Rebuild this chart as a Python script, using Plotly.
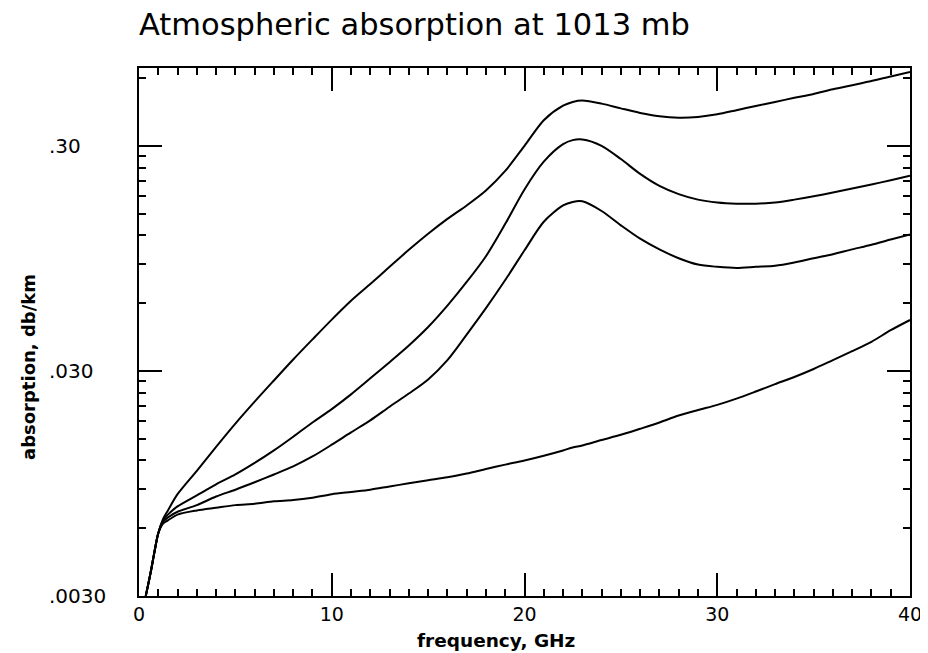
import math
import plotly.graph_objects as go

# ---- data ----
freq_ghz = [0.35, 0.6, 0.8, 1.0, 1.25, 1.5, 2, 3, 4, 5, 6, 7, 8, 9, 10, 11, 12, 13, 14, 15,
            16, 17, 18, 19, 20, 21, 22, 22.5, 23, 24, 25, 26, 27, 28, 29, 30, 31, 32, 33,
            34, 35, 36, 37, 38, 39, 40]

curve_a = [0.003, 0.0038, 0.0047, 0.0057, 0.0066, 0.0072, 0.0085, 0.0108, 0.0138, 0.0175,
           0.0219, 0.0272, 0.0337, 0.0414, 0.0507, 0.0615, 0.073, 0.087, 0.1035, 0.122,
           0.142, 0.163, 0.19, 0.232, 0.30, 0.39, 0.452, 0.47, 0.477, 0.462,
           0.44, 0.42, 0.406, 0.40, 0.403, 0.414, 0.432, 0.451, 0.47,
           0.49, 0.51, 0.535, 0.558, 0.582, 0.61, 0.638]

curve_b = [0.003, 0.0038, 0.0047, 0.0057, 0.0065, 0.0069, 0.0075, 0.0084, 0.0094, 0.0104,
           0.0117, 0.0133, 0.0153, 0.0177, 0.0203, 0.0236, 0.0278, 0.0328, 0.0389, 0.047,
           0.0585, 0.0745, 0.097, 0.135, 0.192, 0.255, 0.305, 0.318, 0.32, 0.30,
           0.262, 0.225, 0.199, 0.183, 0.173, 0.168, 0.166, 0.166, 0.168,
           0.173, 0.179, 0.186, 0.194, 0.202, 0.211, 0.221]

curve_c = [0.003, 0.0038, 0.0047, 0.0057, 0.0064, 0.0067, 0.0071, 0.0076, 0.0083, 0.0089,
           0.0096, 0.0104, 0.0113, 0.0125, 0.0141, 0.016, 0.0181, 0.0208, 0.0238, 0.0275,
           0.0335, 0.0435, 0.057, 0.076, 0.103, 0.138, 0.163, 0.169, 0.17, 0.154,
           0.133, 0.116, 0.104, 0.095, 0.089, 0.087, 0.086, 0.087, 0.088,
           0.091, 0.095, 0.099, 0.104, 0.109, 0.115, 0.121]

curve_d = [0.003, 0.0038, 0.0047, 0.0057, 0.0063, 0.0065, 0.0069, 0.0072, 0.0074, 0.0076,
           0.0077, 0.0079, 0.0080, 0.0082, 0.0085, 0.0087, 0.0089, 0.0092, 0.0095, 0.0098,
           0.0101, 0.0105, 0.011, 0.0115, 0.012, 0.0126, 0.0133, 0.0137, 0.014, 0.0148,
           0.0156, 0.0166, 0.0177, 0.019, 0.0201, 0.0212, 0.0226, 0.0243, 0.0262,
           0.0282, 0.0306, 0.0335, 0.0367, 0.0404, 0.0455, 0.0505]

x_tick_vals = [0, 10, 20, 30, 40]
x_tick_text = ["0", "10", "20", "30", "40"]
y_tick_vals = [0.003, 0.03, 0.3]
y_tick_text = [".0030", ".030", ".30"]
y_range = [0.003, 0.665]

title_text = "Atmospheric absorption at 1013 mb"
x_title = "frequency, GHz"
y_title = "absorption, db/km"

# ---- figure ----
FONT = "DejaVu Sans"
OFF = 8  # page body margin shifts the figure by this many pixels
W, H = 928 - OFF, 653 - OFF
L, R, T, B = 139 - OFF, 910 - OFF, 68 - OFF, 596 - OFF
PW, PH = R - L, B - T

fig = go.Figure()
for series in (curve_a, curve_b, curve_c, curve_d):
    fig.add_trace(go.Scatter(x=freq_ghz, y=series, mode="lines",
                             line=dict(color="black", width=2, shape="spline", smoothing=0.8),
                             showlegend=False, hoverinfo="skip"))

y_minor = []
for decade in (0.003, 0.03, 0.3):
    for k in range(2, 10):
        v = decade * k
        if v < y_range[1]:
            y_minor.append(v)

fig.update_xaxes(
    range=[0, 40], tickmode="array", tickvals=x_tick_vals, ticktext=x_tick_text,
    ticks="inside", ticklen=23, tickwidth=2, tickcolor="black",
    minor=dict(dtick=1, tick0=0, ticks="inside", ticklen=7, tickwidth=2, tickcolor="black"),
    showline=True, linewidth=2, linecolor="black", mirror="allticks",
    showgrid=False, zeroline=False, automargin=False,
    tickfont=dict(family=FONT, size=19, color="black"),
)
fig.update_yaxes(
    type="log", range=[math.log10(y_range[0]), math.log10(y_range[1])],
    tickmode="array", tickvals=y_tick_vals, showticklabels=False,
    ticks="inside", ticklen=23, tickwidth=2, tickcolor="black",
    minor=dict(tickvals=y_minor, ticks="inside", ticklen=7, tickwidth=2, tickcolor="black"),
    showline=True, linewidth=2, linecolor="black", mirror="allticks",
    showgrid=False, zeroline=False, automargin=False,
)

annotations = []
for v, t in zip(y_tick_vals, y_tick_text):
    annotations.append(dict(x=-(139 - 47) / PW, xref="paper", xanchor="left",
                            y=math.log10(v), yref="y", yanchor="middle",
                            text=t, showarrow=False,
                            font=dict(family=FONT, size=20, color="black")))
annotations.append(dict(x=-2 / PW, xref="paper", xanchor="left",
                        y=1 + (68 - 24) / PH, yref="paper", yanchor="middle",
                        text=title_text, showarrow=False,
                        font=dict(family=FONT, size=30.5, color="black")))
annotations.append(dict(x=(496 - 139) / PW, xref="paper", xanchor="center",
                        y=-(640 - 596) / PH, yref="paper", yanchor="middle",
                        text="<b>" + x_title + "</b>", showarrow=False,
                        font=dict(family=FONT, size=18.5, color="black")))
annotations.append(dict(x=-(139 - 28) / PW, xref="paper", xanchor="center",
                        y=(596 - 367) / PH, yref="paper", yanchor="middle",
                        text="<b>" + y_title + "</b>", showarrow=False, textangle=-90,
                        font=dict(family=FONT, size=18, color="black")))

fig.update_layout(
    width=W, height=H,
    margin=dict(l=L, r=W - R, t=T, b=H - B, autoexpand=False),
    paper_bgcolor="white", plot_bgcolor="white",
    annotations=annotations,
    font=dict(family=FONT, color="black"),
)

fig.write_html("out.html")
